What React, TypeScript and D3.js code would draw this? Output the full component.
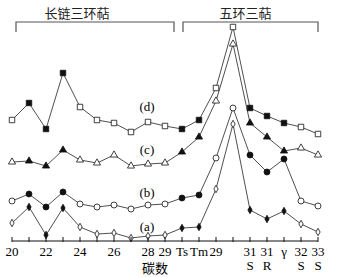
import React from "react";
import * as d3 from "d3";

// categories along the carbon-number axis
const categories = ["20", "21", "22", "23", "24", "25", "26", "27", "28", "29", "Ts", "Tm", "H29", "H30", "31S", "31R", "gamma", "32S", "33S"];
const tickTop = ["20", "", "22", "", "24", "", "26", "", "28", "29", "Ts", "Tm", "29", "", "31", "31", "γ", "32", "33"];
const tickBottom = ["", "", "", "", "", "", "", "", "", "", "", "", "", "", "S", "R", "", "S", "S"];
// filled markers for these categories
const filled = ["21", "22", "23", "Ts", "Tm", "31S", "31R", "gamma"];

// relative abundance (stacked, arbitrary units)
const seriesA = [18, 34, 6, 33, 14, 7, 8, 3, 5, 6, 13, 14, 52, 117, 31, 22, 30, 17, 9];
const seriesB = [40, 47, 34, 49, 37, 34, 36, 32, 36, 37, 43, 46, 83, 133, 86, 69, 82, 40, 35];
const seriesC = [79, 80, 75, 91, 81, 78, 86, 75, 77, 78, 89, 104, 140, 197, 118, 104, 90, 93, 86];
const seriesD = [121, 138, 112, 168, 134, 121, 118, 109, 119, 115, 112, 121, 153, 214, 133, 125, 118, 114, 107];

const seriesLabels = ["(a)", "(b)", "(c)", "(d)"];
const labelValues = [14, 48, 91, 134];

const width = 337;
const height = 277;
const serif = "'Liberation Serif', 'DejaVu Serif', serif";
const cjk = "'Noto Sans CJK SC', sans-serif";

const App = () => {
  const x = d3.scalePoint().domain(categories).range([12, 318]);
  const y = d3.scaleLinear().domain([0, 220]).range([241, 21]);
  const line = d3.line<number>().x((d, i) => x(categories[i])!).y(d => y(d));

  const series = [
    { data: seriesA, symbol: d3.symbolDiamond, size: 16 },
    { data: seriesB, symbol: d3.symbolCircle, size: 28 },
    { data: seriesC, symbol: d3.symbolTriangle, size: 22 },
    { data: seriesD, symbol: d3.symbolSquare, size: 30 },
  ];

  const brackets = [
    { x0: 16, x1: 174, label: "长链三环萜" },
    { x0: 183, x1: 318, label: "五环三萜" },
  ];

  return (
    <div style={{ position: "absolute", left: 0, top: 0 }}>
      <svg width={width} height={height} style={{ display: "block", background: "#fff" }}>
        {brackets.map((b, i) => (
          <g key={i} stroke="#555" strokeWidth={1.2} fill="none">
            <path d={`M${b.x0},32V22H${b.x1}V32`} />
            <text
              x={(b.x0 + b.x1) / 2 + (i === 0 ? -18 : -5)}
              y={18}
              textAnchor="middle"
              fontFamily={cjk}
              fontSize={13}
              fill="#222"
              stroke="none"
            >
              {b.label}
            </text>
          </g>
        ))}

        {series.map((s, si) => {
          const sym = d3.symbol().type(s.symbol).size(s.size);
          return (
            <g key={si}>
              <path d={line(s.data)!} fill="none" stroke="#222" strokeWidth={0.8} />
              {s.data.map((v, i) => (
                <path
                  key={i}
                  d={sym()!}
                  transform={`translate(${x(categories[i])},${y(v)})`}
                  fill={filled.includes(categories[i]) ? "#111" : "#fff"}
                  stroke="#111"
                  strokeWidth={0.8}
                />
              ))}
            </g>
          );
        })}

        {seriesLabels.map((l, i) => (
          <text key={l} x={147} y={y(labelValues[i]) + 4} textAnchor="middle" fontFamily={serif} fontSize={13} fill="#000">
            {l}
          </text>
        ))}

        <g>
          <line x1={x(categories[0])} x2={x(categories[categories.length - 1])} y1={y(0)} y2={y(0)} stroke="#111" strokeWidth={1.2} />
          {categories.map((c, i) => (
            <g key={c} transform={`translate(${x(c)},${y(0)})`}>
              <line y1={-4} y2={1} stroke="#111" strokeWidth={1} />
              {tickTop[i] && (
                <text y={15} textAnchor="middle" fontFamily={serif} fontSize={13} fill="#000">
                  {tickTop[i]}
                </text>
              )}
              {tickBottom[i] && (
                <text y={29} textAnchor="middle" fontFamily={serif} fontSize={13} fill="#000">
                  {tickBottom[i]}
                </text>
              )}
            </g>
          ))}
          <text x={155} y={273} textAnchor="middle" fontFamily={cjk} fontSize={13} fill="#000">
            碳数
          </text>
        </g>
      </svg>
    </div>
  );
};

export default App;
